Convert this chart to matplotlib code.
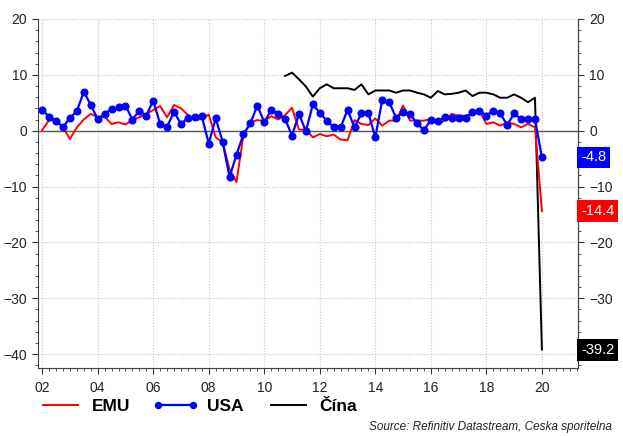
import matplotlib
matplotlib.use("Agg")
import matplotlib.pyplot as plt
import matplotlib.transforms as mtransforms
from matplotlib.ticker import MultipleLocator, FixedLocator
import numpy as np

plt.rcParams['font.family'] = ['Liberation Sans', 'DejaVu Sans']

start_year = 2002
# quarterly annualized GDP growth, 2002Q1 .. 2020Q1
emu = [0.1, 1.9, 1.8, 0.6,
       -1.5, 0.6, 2.0, 3.0,
       2.4, 2.5, 1.2, 1.5,
       1.1, 1.9, 2.4, 3.0,
       3.7, 4.4, 2.4, 4.6,
       4.0, 2.8, 1.9, 2.1,
       2.9, -1.2, -2.1, -6.9,
       -9.2, -0.8, 1.5, 1.9,
       1.7, 2.6, 2.0, 2.8,
       4.1, 0.2, 0.2, -1.2,
       -0.6, -1.0, -0.7, -1.6,
       -1.7, 1.9, 1.2, 1.0,
       2.2, 0.9, 1.8, 1.8,
       4.5, 1.8, 1.8, 1.8,
       2.1, 1.2, 1.8, 3.0,
       2.7, 2.7, 3.0, 3.6,
       1.2, 1.5, 0.9, 1.5,
       1.2, 0.6, 1.2, 0.6,
       -14.4]
usa = [3.7, 2.5, 1.8, 0.6,
       2.3, 3.5, 7.0, 4.6,
       2.1, 3.0, 3.9, 4.2,
       4.5, 2.0, 3.6, 2.7,
       5.4, 1.2, 0.7, 3.4,
       1.2, 2.3, 2.5, 2.6,
       -2.3, 2.2, -2.0, -8.3,
       -4.3, -0.6, 1.3, 4.5,
       1.5, 3.7, 3.0, 2.1,
       -0.9, 3.0, -0.1, 4.7,
       3.2, 1.8, 0.6, 0.6,
       3.7, 0.6, 3.1, 3.1,
       -1.2, 5.5, 5.1, 2.3,
       3.3, 3.0, 1.3, 0.1,
       1.9, 1.8, 2.4, 2.3,
       2.3, 2.3, 3.3, 3.6,
       2.7, 3.6, 3.1, 1.0,
       3.1, 2.1, 2.1, 2.1,
       -4.8]
china_start = 2010.75
china = [9.8,
         10.4, 9.2, 7.9, 6.1,
         7.6, 8.3, 7.6, 7.6,
         7.6, 7.3, 8.3, 6.5,
         7.2, 7.2, 7.2, 6.8,
         7.2, 7.2, 6.8, 6.5,
         5.9, 7.1, 6.5, 6.6,
         6.8, 7.2, 6.2, 6.8,
         6.8, 6.5, 5.9, 5.9,
         6.5, 5.9, 5.1, 5.9,
         -39.2]
series_names = ['EMU', 'USA', 'Čína']
year_labels = ['02', '04', '06', '08', '10', '12', '14', '16', '18', '20']
left_ticks = [20, 10, 0, -10, -20, -30, -40]
right_ticks = [20, 10, 0, -10, -20, -30]
source_text = 'Source: Refinitiv Datastream, Ceska sporitelna'

x_emu = start_year + np.arange(len(emu)) * 0.25
x_usa = start_year + np.arange(len(usa)) * 0.25
x_chn = china_start + np.arange(len(china)) * 0.25

fig = plt.figure(figsize=(6.23, 4.36), dpi=100)
ax = fig.add_axes([38/623, 1-368/436, (578-38)/623, (368-19)/436])

ax.set_xlim(2001.85, 2021.3)
ax.set_ylim(-42.5, 20)

ax.axhline(0, color='#555555', lw=1.0, zorder=1)

ax.plot(x_emu, emu, color='#ff0000', lw=1.4, zorder=3, label=series_names[0])
ax.plot(x_usa, usa, color='#0000ff', lw=1.6, marker='o', ms=4.8, zorder=4, label=series_names[1])
ax.plot(x_chn, china, color='#000000', lw=1.4, zorder=2, label=series_names[2])

major_years = [2002 + 2*i for i in range(len(year_labels))]
ax.xaxis.set_major_locator(FixedLocator(major_years))
ax.set_xticklabels(year_labels)
ax.xaxis.set_minor_locator(MultipleLocator(0.25))
ax.yaxis.set_major_locator(FixedLocator(left_ticks))
ax.yaxis.set_minor_locator(MultipleLocator(2))

ax.grid(True, which='major', color='#c8c8c8', ls=(0, (1, 1.5)), lw=0.8)
ax.set_axisbelow(True)

ax.tick_params(axis='both', which='both', direction='out', colors='#333333',
               labelcolor='#222222', labelsize=10)
ax.tick_params(axis='y', which='major', length=4, pad=4)
ax.tick_params(axis='y', which='minor', length=2.5)
ax.tick_params(axis='x', which='major', length=4, pad=5)
ax.tick_params(axis='x', which='minor', length=2.5)

for s in ['left', 'right', 'bottom']:
    ax.spines[s].set_color('#444444')
    ax.spines[s].set_linewidth(0.8)
ax.spines['top'].set_visible(False)

# right axis (same scale)
ax2 = ax.twinx()
ax2.set_ylim(ax.get_ylim())
ax2.yaxis.set_major_locator(FixedLocator(right_ticks))
ax2.yaxis.set_minor_locator(MultipleLocator(2))
ax2.tick_params(axis='y', which='both', direction='out', colors='#333333',
                labelcolor='#222222', labelsize=10)
ax2.tick_params(axis='y', which='major', length=4, pad=4)
ax2.tick_params(axis='y', which='minor', length=2.5)
for s in ['left', 'top', 'bottom']:
    ax2.spines[s].set_visible(False)
ax2.spines['right'].set_color('#444444')
ax2.spines['right'].set_linewidth(0.8)

# right-side value labels
trans = mtransforms.blended_transform_factory(ax2.transAxes, ax2.transData)
for val, col in [(usa[-1], '#0000ff'), (emu[-1], '#ff0000'), (china[-1], '#000000')]:
    ax2.text(1.006, val, f'{val:.1f}', transform=trans, ha='left', va='center',
             color='white', fontsize=10.5, zorder=10, clip_on=False,
             bbox=dict(facecolor=col, edgecolor='none', pad=2.8))

leg = fig.legend(loc='center left', bbox_to_anchor=(0.036, 0.067), ncol=3, frameon=False,
                 prop={'weight': 'bold', 'size': 12.5}, handlelength=2.6,
                 columnspacing=1.3, handletextpad=0.5, numpoints=2, markerscale=0.9)

fig.text(0.982, 0.006, source_text, ha='right', va='bottom', fontsize=8.5,
         style='italic', color='#222222')

fig.savefig('out.png', dpi=100)
